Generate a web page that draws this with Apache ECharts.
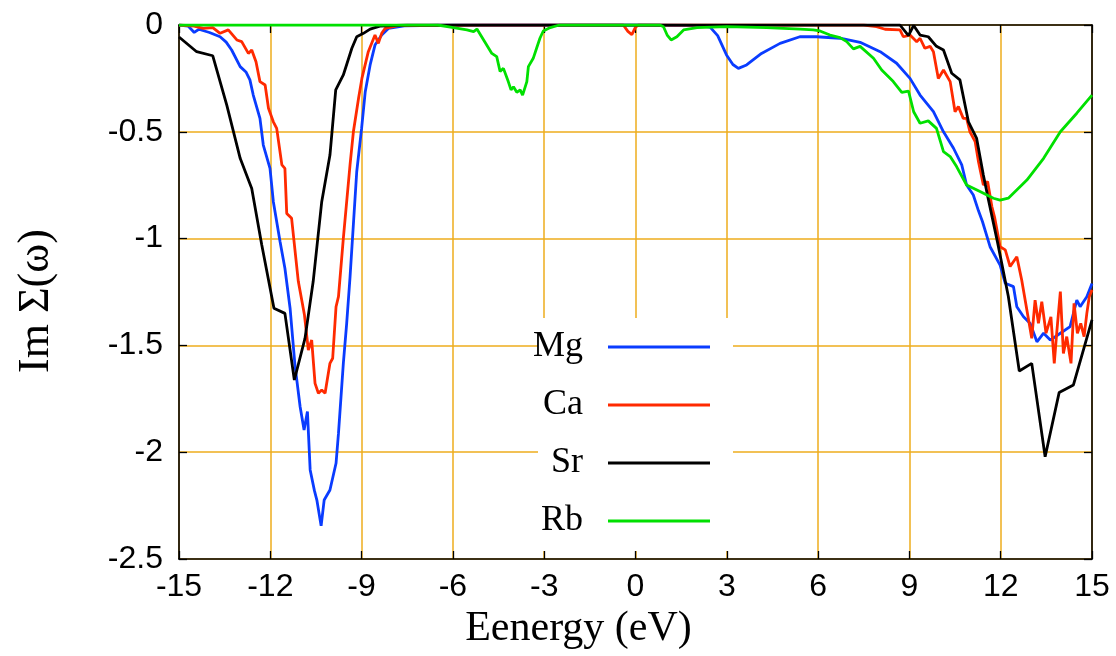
<!DOCTYPE html>
<html>
<head>
<meta charset="utf-8">
<script src="https://cdn.jsdelivr.net/npm/echarts@6/dist/echarts.min.js"></script>
<style>html,body{margin:0;padding:0;background:#fff;}#c{width:1116px;height:656px;}</style>
</head>
<body>
<div id="c"></div>
<script>
const seriesNames = ['Mg', 'Ca', 'Sr', 'Rb'];
const xTicks = [-15, -12, -9, -6, -3, 0, 3, 6, 9, 12, 15];
const yTicks = [0, -0.5, -1, -1.5, -2, -2.5];

const mgX = [-15, -14.7, -14.5, -14.35, -14.0, -13.65, -13.45, -13.27, -12.99, -12.8, -12.67, -12.56, -12.34, -12.23, -12.01, -11.9, -11.68, -11.52, -11.35, -11.19, -11.02, -10.89, -10.78, -10.69, -10.55, -10.47, -10.33, -10.23, -10.04, -9.84, -9.76, -9.6, -9.49, -9.38, -9.16, -9.0, -8.88, -8.72, -8.56, -8.34, -8.12, -7.6, -6, -3, 0, 2.0, 2.45, 2.7, 2.99, 3.2, 3.38, 3.65, 4.14, 4.75, 5.4, 5.95, 6.72, 7.38, 8.04, 8.58, 9.02, 9.35, 9.79, 10.12, 10.45, 10.72, 10.88, 11.1, 11.27, 11.4, 11.65, 11.98, 12.15, 12.42, 12.53, 12.75, 12.97, 13.19, 13.41, 13.63, 13.96, 14.28, 14.5, 14.61, 14.83, 15];
const mgY = [0, -0.005, -0.035, -0.02, -0.035, -0.055, -0.08, -0.117, -0.195, -0.22, -0.257, -0.328, -0.437, -0.562, -0.671, -0.827, -1.014, -1.139, -1.326, -1.592, -1.787, -1.896, -1.81, -2.083, -2.18, -2.224, -2.345, -2.224, -2.177, -2.052, -1.912, -1.584, -1.397, -1.18, -0.687, -0.484, -0.312, -0.187, -0.094, -0.047, -0.016, -0.004, 0, 0, 0, -0.002, -0.01, -0.05, -0.14, -0.185, -0.203, -0.187, -0.133, -0.086, -0.055, -0.055, -0.062, -0.081, -0.125, -0.179, -0.25, -0.328, -0.406, -0.5, -0.577, -0.655, -0.749, -0.796, -0.87, -0.92, -1.038, -1.124, -1.209, -1.225, -1.319, -1.366, -1.397, -1.483, -1.443, -1.475, -1.443, -1.412, -1.288, -1.319, -1.272, -1.21];

const caX = [-15, -14.5, -14.2, -13.89, -13.65, -13.38, -13.1, -12.94, -12.72, -12.61, -12.47, -12.34, -12.17, -12.06, -11.9, -11.79, -11.62, -11.52, -11.46, -11.3, -11.08, -10.88, -10.75, -10.64, -10.53, -10.42, -10.31, -10.2, -10.04, -9.95, -9.84, -9.76, -9.6, -9.38, -9.27, -9.1, -8.99, -8.78, -8.56, -8.45, -8.34, -8.23, -7.8, -5, -0.4, -0.25, -0.12, 0, 0.1, 7.5, 7.92, 8.2, 8.69, 8.8, 9.02, 9.24, 9.35, 9.51, 9.68, 9.79, 9.95, 10.12, 10.34, 10.5, 10.61, 10.77, 10.88, 10.99, 11.16, 11.27, 11.43, 11.57, 11.71, 11.8, 11.98, 12.15, 12.31, 12.53, 12.69, 12.86, 13.02, 13.13, 13.24, 13.35, 13.49, 13.65, 13.76, 13.84, 13.96, 14.06, 14.17, 14.31, 14.41, 14.52, 14.63, 14.74, 14.83, 14.91, 15];
const caY = [0, -0.005, -0.016, -0.012, -0.039, -0.023, -0.07, -0.078, -0.133, -0.117, -0.172, -0.265, -0.281, -0.39, -0.453, -0.484, -0.655, -0.671, -0.882, -0.905, -1.2, -1.355, -1.522, -1.475, -1.678, -1.724, -1.709, -1.724, -1.584, -1.56, -1.319, -1.272, -0.999, -0.655, -0.5, -0.343, -0.25, -0.125, -0.047, -0.086, -0.039, -0.016, -0.003, 0, 0, -0.03, -0.045, -0.01, 0, 0, -0.008, -0.02, -0.023, -0.055, -0.047, -0.078, -0.062, -0.109, -0.1, -0.125, -0.25, -0.211, -0.265, -0.406, -0.382, -0.437, -0.437, -0.5, -0.546, -0.64, -0.749, -0.733, -0.85, -0.9, -1.038, -1.053, -1.131, -1.085, -1.194, -1.334, -1.467, -1.288, -1.397, -1.295, -1.443, -1.366, -1.584, -1.443, -1.248, -1.538, -1.459, -1.584, -1.303, -1.443, -1.397, -1.459, -1.35, -1.272, -1.24];

const srX = [-15, -14.42, -13.89, -13.43, -12.99, -12.61, -12.28, -11.88, -11.52, -11.21, -10.86, -10.59, -10.31, -10.04, -9.85, -9.6, -9.32, -9.16, -8.94, -8.72, -8.4, -7.5, 8.69, 8.97, 9.14, 9.35, 9.62, 9.89, 10.12, 10.39, 10.66, 10.94, 11.21, 11.43, 11.6, 11.9, 12.25, 12.61, 13.02, 13.46, 13.92, 14.39, 15];
const srY = [-0.056, -0.125, -0.144, -0.375, -0.624, -0.765, -1.03, -1.326, -1.35, -1.662, -1.467, -1.2, -0.827, -0.609, -0.304, -0.234, -0.109, -0.055, -0.039, -0.019, -0.005, 0, 0, -0.05, -0.002, -0.047, -0.055, -0.1, -0.117, -0.226, -0.257, -0.453, -0.531, -0.702, -0.82, -1.02, -1.27, -1.62, -1.584, -2.021, -1.721, -1.685, -1.381];

const rbX = [-15, -6.5, -5.98, -5.54, -5.32, -5.21, -4.99, -4.72, -4.56, -4.45, -4.34, -4.18, -4.09, -4.01, -3.9, -3.79, -3.71, -3.57, -3.52, -3.36, -3.25, -3.14, -3.03, -2.8, -2.5, 0.8, 0.92, 1.04, 1.17, 1.36, 1.58, 2.02, 3, 4.31, 5.41, 5.84, 6.06, 6.39, 6.72, 6.94, 7.16, 7.38, 7.82, 8.09, 8.47, 8.75, 8.97, 9.14, 9.35, 9.62, 9.89, 10.12, 10.34, 10.55, 10.88, 11.32, 11.76, 11.98, 12.25, 12.86, 13.41, 13.96, 14.5, 15];
const rbY = [0, 0, -0.012, -0.023, -0.031, -0.019, -0.07, -0.133, -0.148, -0.218, -0.203, -0.265, -0.304, -0.289, -0.315, -0.304, -0.328, -0.265, -0.195, -0.156, -0.109, -0.062, -0.028, -0.012, 0, 0, -0.008, -0.047, -0.07, -0.055, -0.023, -0.012, -0.008, -0.012, -0.019, -0.023, -0.028, -0.047, -0.059, -0.078, -0.112, -0.1, -0.156, -0.211, -0.265, -0.315, -0.309, -0.406, -0.46, -0.449, -0.484, -0.593, -0.616, -0.663, -0.749, -0.78, -0.811, -0.82, -0.811, -0.726, -0.624, -0.5, -0.413, -0.328];

const colors = ['#0a3cff', '#ff2a00', '#000000', '#00e000'];
const xs = [mgX, caX, srX, rbX];
const ys = [mgY, caY, srY, rbY];

const gridColor = '#eeac1c';
const tickFont = {fontFamily: 'Liberation Sans', fontSize: 32, color: '#000'};

const chart = echarts.init(document.getElementById('c'), null, {renderer: 'canvas'});

const series = seriesNames.map((n, i) => ({
  name: n,
  type: 'line',
  xAxisIndex: 0,
  yAxisIndex: 0,
  data: xs[i].map((x, k) => [x, ys[i][k]]),
  showSymbol: false,
  symbol: 'none',
  animation: false,
  z: 3,
  lineStyle: {color: colors[i], width: 2.8},
  itemStyle: {color: colors[i]}
}));

const rowCenters = [347, 405, 463, 521];
const legends = seriesNames.map((n, i) => ({
  data: [n],
  orient: 'vertical',
  right: 406,
  top: rowCenters[i] - 20,
  padding: 0,
  align: 'right',
  icon: 'rect',
  itemWidth: 102,
  itemHeight: 3,
  selectedMode: false,
  textStyle: {fontFamily: 'Liberation Serif', fontSize: 36, color: '#000', lineHeight: 40, padding: [0, 20, 0, 0]}
}));

const axisLineStyle = {onZero: false, lineStyle: {color: '#000', width: 1.6}};
const tickStyle = {show: true, inside: true, length: 8, lineStyle: {color: '#000', width: 1.3}};

chart.setOption({
  animation: false,
  backgroundColor: '#fff',
  grid: {left: 179, right: 24, top: 25, bottom: 97, containLabel: false},
  legend: legends,
  graphic: [{
    type: 'rect', z: 1, silent: true,
    shape: {x: 538, y: 318, width: 195, height: 233},
    style: {fill: '#fff'}
  }],
  xAxis: [{
    type: 'value', position: 'bottom', min: -15, max: 15, interval: 3,
    axisLine: axisLineStyle, axisTick: tickStyle,
    axisLabel: Object.assign({margin: 12}, tickFont),
    splitLine: {show: true, lineStyle: {color: gridColor, width: 1.5}},
    name: 'Eenergy (eV)', nameLocation: 'middle', nameGap: 47,
    nameTextStyle: {fontFamily: 'Liberation Serif', fontSize: 42, color: '#000', padding: [0, 114, 0, 0]}
  }, {
    type: 'value', position: 'top', min: -15, max: 15, interval: 3,
    axisLine: axisLineStyle, axisTick: tickStyle,
    axisLabel: {show: false}, splitLine: {show: false}
  }],
  yAxis: [{
    type: 'value', position: 'left', min: -2.5, max: 0, interval: 0.5,
    axisLine: axisLineStyle, axisTick: tickStyle,
    axisLabel: Object.assign({margin: 16}, tickFont),
    splitLine: {show: true, lineStyle: {color: gridColor, width: 1.5}},
    name: 'Im Σ(ω)', nameLocation: 'middle', nameGap: 121, nameRotate: 90,
    nameTextStyle: {fontFamily: 'Liberation Serif', fontSize: 44, color: '#000', padding: [0, 18, 0, 0]}
  }, {
    type: 'value', position: 'right', min: -2.5, max: 0, interval: 0.5,
    axisLine: axisLineStyle, axisTick: tickStyle,
    axisLabel: {show: false}, splitLine: {show: false}
  }],
  series: series
});
</script>
</body>
</html>
